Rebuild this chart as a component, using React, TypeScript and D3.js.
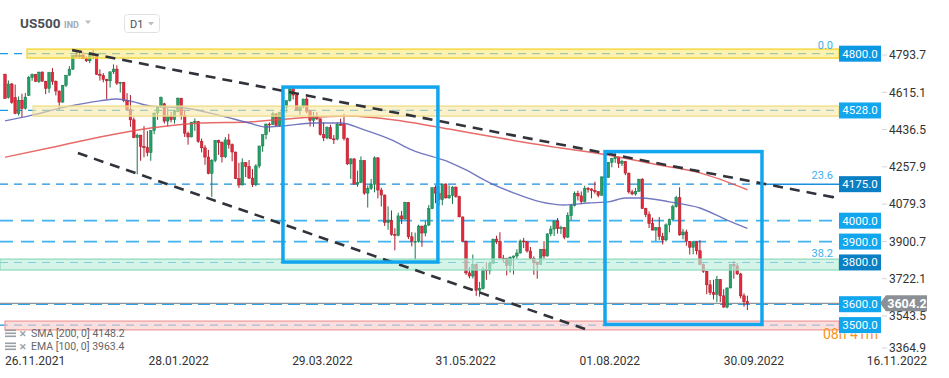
import React from "react";
import * as d3 from "d3";

// ---------- DATA ----------
// daily candles [open, high, low, close], 26.11.2021 .. 11.10.2022
const ohlc: [number, number, number, number][] = [
  [4701, 4705, 4586, 4585], [4590, 4672, 4585, 4655], [4655, 4660, 4560, 4567], [4590, 4652, 4510, 4513],
  [4513, 4595, 4504, 4577], [4577, 4608, 4495, 4538], [4538, 4612, 4532, 4592], [4600, 4694, 4598, 4686],
  [4686, 4705, 4670, 4701], [4701, 4703, 4665, 4667], [4667, 4713, 4660, 4712], [4712, 4715, 4667, 4668],
  [4668, 4670, 4606, 4634], [4634, 4713, 4612, 4709], [4709, 4731, 4651, 4668], [4668, 4672, 4600, 4621],
  [4621, 4624, 4531, 4568], [4568, 4650, 4565, 4649], [4649, 4697, 4640, 4697], [4697, 4740, 4695, 4726],
  [4726, 4792, 4722, 4791], [4791, 4808, 4781, 4786], [4786, 4805, 4778, 4793], [4793, 4808, 4775, 4778],
  [4778, 4787, 4760, 4766], [4766, 4797, 4755, 4797], [4797, 4819, 4774, 4794], [4794, 4798, 4699, 4701],
  [4701, 4725, 4671, 4696], [4696, 4707, 4663, 4677], [4677, 4680, 4582, 4670], [4670, 4715, 4638, 4713],
  [4713, 4749, 4703, 4726], [4726, 4744, 4650, 4659], [4659, 4665, 4614, 4663], [4663, 4665, 4568, 4577],
  [4577, 4611, 4530, 4532], [4532, 4602, 4450, 4483], [4483, 4494, 4395, 4398], [4398, 4417, 4222, 4410],
  [4410, 4411, 4287, 4356], [4356, 4453, 4304, 4350], [4350, 4429, 4309, 4326], [4326, 4432, 4287, 4432],
  [4432, 4516, 4414, 4516], [4516, 4546, 4483, 4546], [4546, 4595, 4540, 4589], [4560, 4565, 4465, 4477],
  [4477, 4539, 4451, 4501], [4501, 4521, 4471, 4484], [4484, 4531, 4465, 4522], [4522, 4590, 4520, 4587],
  [4587, 4588, 4484, 4504], [4504, 4527, 4401, 4419], [4419, 4427, 4364, 4401], [4401, 4472, 4400, 4472],
  [4472, 4490, 4430, 4475], [4475, 4478, 4373, 4380], [4380, 4394, 4327, 4349], [4349, 4362, 4268, 4305],
  [4305, 4339, 4222, 4226], [4226, 4295, 4114, 4288], [4288, 4385, 4280, 4385], [4385, 4388, 4315, 4374],
  [4374, 4380, 4279, 4306], [4306, 4401, 4300, 4387], [4387, 4416, 4345, 4364], [4364, 4370, 4284, 4329],
  [4329, 4330, 4199, 4201], [4201, 4277, 4157, 4171], [4171, 4299, 4170, 4278], [4278, 4280, 4209, 4260],
  [4260, 4291, 4200, 4204], [4204, 4247, 4161, 4173], [4173, 4271, 4165, 4262], [4262, 4358, 4251, 4358],
  [4358, 4412, 4330, 4412], [4412, 4465, 4390, 4463], [4463, 4471, 4425, 4461], [4461, 4522, 4460, 4512],
  [4512, 4515, 4455, 4456], [4456, 4520, 4450, 4520], [4520, 4546, 4501, 4543], [4543, 4576, 4517, 4575],
  [4575, 4637, 4570, 4632], [4632, 4635, 4581, 4602], [4602, 4608, 4530, 4530], [4530, 4548, 4507, 4546],
  [4546, 4583, 4539, 4583], [4583, 4593, 4514, 4525], [4525, 4530, 4451, 4481], [4481, 4521, 4450, 4500],
  [4500, 4520, 4482, 4488], [4488, 4490, 4408, 4413], [4413, 4471, 4381, 4397], [4397, 4452, 4390, 4446],
  [4446, 4460, 4392, 4392], [4392, 4410, 4367, 4391], [4391, 4471, 4385, 4462], [4462, 4489, 4455, 4460],
  [4460, 4512, 4384, 4394], [4394, 4398, 4267, 4272], [4272, 4299, 4200, 4296], [4296, 4300, 4175, 4175],
  [4175, 4240, 4162, 4183], [4183, 4308, 4180, 4288], [4288, 4290, 4124, 4132], [4132, 4169, 4063, 4155],
  [4155, 4200, 4147, 4175], [4175, 4308, 4136, 4301], [4301, 4305, 4107, 4147], [4147, 4158, 4068, 4123],
  [4123, 4125, 3975, 3991], [3991, 4069, 3957, 4001], [4001, 4049, 3928, 3935], [3935, 3964, 3858, 3930],
  [3930, 4038, 3925, 4023], [4023, 4047, 3984, 4008], [4008, 4090, 4005, 4088], [4088, 4090, 3912, 3923],
  [3923, 3945, 3877, 3901], [3901, 3943, 3810, 3901], [3901, 3981, 3895, 3974], [3974, 3976, 3875, 3941],
  [3941, 3999, 3925, 3979], [3979, 4075, 3975, 4058], [4058, 4158, 4055, 4158], [4158, 4169, 4084, 4132],
  [4132, 4166, 4073, 4101], [4101, 4177, 4074, 4176], [4176, 4178, 4107, 4109], [4109, 4169, 4105, 4121],
  [4121, 4165, 4080, 4161], [4161, 4164, 4110, 4116], [4116, 4119, 4017, 4018], [4018, 4020, 3900, 3901],
  [3901, 3905, 3740, 3750], [3750, 3778, 3724, 3735], [3735, 3838, 3723, 3790], [3790, 3795, 3640, 3667],
  [3667, 3707, 3636, 3675], [3675, 3780, 3670, 3765], [3765, 3801, 3717, 3760], [3760, 3805, 3743, 3796],
  [3796, 3913, 3795, 3912], [3912, 3928, 3889, 3900], [3900, 3945, 3820, 3821], [3821, 3836, 3799, 3819],
  [3819, 3822, 3738, 3785], [3785, 3829, 3752, 3825], [3825, 3832, 3742, 3831], [3831, 3863, 3818, 3845],
  [3845, 3910, 3843, 3903], [3903, 3918, 3869, 3899], [3899, 3900, 3847, 3855], [3855, 3874, 3814, 3819],
  [3819, 3829, 3741, 3801], [3801, 3805, 3722, 3790], [3790, 3863, 3788, 3863], [3863, 3902, 3818, 3831],
  [3831, 3939, 3828, 3937], [3937, 3975, 3925, 3960], [3960, 3999, 3927, 3999], [3999, 4013, 3938, 3962],
  [3962, 3976, 3936, 3967], [3967, 3970, 3911, 3921], [3921, 4040, 3918, 4024], [4024, 4079, 4002, 4072],
  [4072, 4140, 4068, 4130], [4130, 4144, 4097, 4119], [4119, 4140, 4079, 4091], [4091, 4167, 4088, 4155],
  [4155, 4161, 4135, 4152], [4152, 4155, 4107, 4145], [4145, 4187, 4129, 4140], [4140, 4141, 4112, 4122],
  [4122, 4211, 4120, 4210], [4210, 4258, 4201, 4207], [4207, 4280, 4205, 4280], [4280, 4301, 4256, 4297],
  [4297, 4325, 4277, 4305], [4305, 4306, 4253, 4275], [4275, 4292, 4262, 4284], [4284, 4286, 4218, 4228],
  [4228, 4230, 4130, 4138], [4138, 4148, 4122, 4128], [4128, 4157, 4120, 4141], [4141, 4200, 4138, 4199],
  [4199, 4204, 4057, 4058], [4058, 4062, 4017, 4030], [4030, 4044, 3965, 3986], [3986, 4015, 3954, 3955],
  [3955, 3970, 3903, 3967], [3967, 4018, 3907, 3924], [3924, 3942, 3886, 3908], [3908, 3987, 3900, 3980],
  [3980, 4010, 3944, 4006], [4006, 4077, 4004, 4067], [4067, 4119, 4063, 4110], [4110, 4160, 3928, 3932],
  [3932, 3961, 3911, 3946], [3946, 3957, 3880, 3901], [3901, 3903, 3838, 3873], [3873, 3900, 3839, 3899],
  [3899, 3902, 3838, 3856], [3856, 3907, 3790, 3790], [3790, 3795, 3750, 3758], [3758, 3760, 3648, 3693],
  [3693, 3716, 3644, 3655], [3655, 3717, 3623, 3647], [3647, 3736, 3610, 3719], [3719, 3720, 3610, 3640],
  [3640, 3672, 3584, 3586], [3586, 3679, 3580, 3678], [3678, 3791, 3676, 3791], [3791, 3807, 3722, 3783],
  [3783, 3797, 3740, 3745], [3745, 3750, 3628, 3640], [3640, 3652, 3588, 3612], [3612, 3641, 3572, 3604.2],
];

// SMA 200 (red): [bar index, price]
const sma200: [number, number][] = [
  [0, 4304], [13, 4348], [28, 4401], [43, 4444], [58, 4468], [72, 4473], [87, 4492], [101, 4502],
  [117, 4478], [131, 4439], [146, 4396], [164, 4348], [176, 4320], [193, 4267], [205, 4229], [219, 4148.2],
];
// EMA 100 (blue)
const ema100: [number, number][] = [
  [0, 4478], [8, 4506], [18, 4545], [28, 4574], [33, 4583], [38, 4569], [43, 4549], [53, 4540],
  [63, 4506], [72, 4468], [77, 4449], [82, 4454], [91, 4468], [99, 4468], [106, 4435], [114, 4387],
  [120, 4339], [131, 4281], [136, 4243], [143, 4181], [150, 4133], [158, 4090], [165, 4075], [172, 4085],
  [178, 4090], [183, 4109], [188, 4109], [196, 4090], [205, 4061], [213, 4003], [219, 3963.4],
];

const priceTicks = [4793.7, 4615.1, 4436.5, 4257.9, 4079.3, 3900.7, 3722.1, 3543.5, 3364.9];
const dateTicks: [number, string][] = [
  [0, "26.11.2021"], [42.3, "28.01.2022"], [84.7, "29.03.2022"], [127, "31.05.2022"], [169.5, "01.08.2022"], [212, "30.09.2022"],
];
const lastDate = "16.11.2022";

// horizontal levels [price, label style]
const levels: [number, string][] = [
  [4800, "a"], [4528, "b"], [4175, "c"], [4000, "d"], [3900, "d"], [3800, "c"], [3600, "e"], [3500, "b"],
];
// zones [start bar index, low, high, kind]
const zones: [number, number, number, string][] = [
  [6.5, 4779, 4822, "y1"], [8.3, 4501, 4549, "y2"], [-1.5, 3764, 3816, "g"], [0, 3477, 3519, "r"],
];
// trend lines [[idx, price], [idx, price]]
const trendLines: [[number, number], [number, number]][] = [
  [[19.8, 4817], [244.2, 4113]],
  [[21.5, 4324], [171.1, 3481]],
];
// highlight boxes [idx0, idx1, priceTop, priceBottom]
const boxes: [number, number, number, number][] = [
  [82, 127.7, 4640, 3802],
  [177, 223.3, 4331, 3503],
];
// fibonacci labels [price, text]
const fibs: [number, string][] = [[4800, "0.0"], [4175, "23.6"], [3800, "38.2"]];
const lastPrice = 3604.2;
const legendItems: [string, string][] = [["SMA [200,  0] 4148.2", "sma"], ["EMA [100,  0] 3963.4", "ema"]];

// ---------- CHART ----------
const W = 949, H = 378;
const FONT = "Roboto, 'Noto Sans', sans-serif";

export default function App() {
  const x = d3.scaleLinear().domain([0, 219]).range([5, 747.4]);
  const y = d3.scaleLinear().domain([4793.7, 3543.5]).range([55, 316]);
  const plotL = 0, plotR = 839;
  const bw = 2.6;

  const lineGen = d3.line<[number, number]>().x(d => x(d[0])).y(d => y(d[1])).curve(d3.curveMonotoneX);

  const levelStyle: Record<string, { c: string; w: number; da: string }> = {
    a: { c: "#1a9be6", w: 1.3, da: "8 6" },
    b: { c: "#1a9be6", w: 1.3, da: "8 6" },
    c: { c: "#1a8fe0", w: 1.1, da: "8 6" },
    d: { c: "#3fb2ef", w: 1.8, da: "13 8" },
    e: { c: "#2aa3e8", w: 1.8, da: "12 6" },
  };
  const boxColor: Record<string, string> = {
    a: "#0c97e3", b: "#12a6ee", c: "#0a7fc4", d: "#12a6ee", e: "#12a6ee",
  };
  const zoneStyle: Record<string, { f: string; s: string; o: number }> = {
    y1: { f: "#fbe77c", s: "#f2d52c", o: 0.6 },
    y2: { f: "#f8eaa8", s: "#eedc88", o: 0.6 },
    g: { f: "#bfeedb", s: "#92dcc0", o: 0.65 },
    r: { f: "#f9cccc", s: "#f0a0a0", o: 0.65 },
  };

  return (
    <div style={{ position: "absolute", left: 0, top: 0, width: W, height: H, background: "#fff" }}>
      <svg width={W} height={H} style={{ display: "block", fontFamily: FONT }}>
        <defs>
          <clipPath id="cdClip">
            <rect x={800} y={320} width={39} height={25} />
            <rect x={839} y={333.5} width={60} height={12} />
          </clipPath>
        </defs>
        <rect width={W} height={H} fill="#fff" />

        {/* level lines */}
        {levels.map(([p, k], i) => {
          const s = levelStyle[k];
          const xEnd = p === 4175 ? x(224) : plotR;
          return (
            <line key={"lv" + i} x1={plotL} x2={xEnd} y1={y(p)} y2={y(p)} stroke={s.c} strokeWidth={s.w} strokeDasharray={s.da} />
          );
        })}
        <line x1={x(224)} x2={plotR} y1={y(4175)} y2={y(4175)} stroke="#1a8fe0" strokeWidth={1.5} />
        {/* current price line */}
        <line x1={plotL} x2={880} y1={y(lastPrice)} y2={y(lastPrice)} stroke="#8e9499" strokeWidth={1.2} />

        {/* candles */}
        {ohlc.map(([o, h, l, c], i) => {
          const up = c >= o;
          const fill = up ? "#23a067" : "#e3293b";
          const dark = up ? "#16784a" : "#a81b29";
          const cx = x(i);
          const top = y(Math.max(o, c));
          const bh = Math.max(1, y(Math.min(o, c)) - top);
          return (
            <g key={"c" + i}>
              <line x1={cx} x2={cx} y1={y(h)} y2={y(l)} stroke={dark} strokeWidth={1} />
              <rect x={cx - bw / 2} y={top} width={bw} height={bh} fill={fill} stroke={dark} strokeWidth={0.5} />
            </g>
          );
        })}

        {/* moving averages */}
        <path d={lineGen(sma200) || ""} fill="none" stroke="#e2514f" strokeWidth={1.5} opacity={0.85} />
        <path d={lineGen(ema100) || ""} fill="none" stroke="#5b60b4" strokeWidth={1.4} opacity={0.85} />

        {/* zones */}
        {zones.map(([i0, lo, hi, k], i) => {
          const s = zoneStyle[k];
          const x0 = Math.max(plotL, x(i0));
          return (
            <rect key={"z" + i} x={x0} y={y(hi)} width={plotR - x0} height={y(lo) - y(hi)}
              fill={s.f} fillOpacity={s.o} stroke={s.s} strokeWidth={1.3} />
          );
        })}

        {/* trend lines */}
        {trendLines.map(([a, b], i) => (
          <line key={"t" + i} x1={x(a[0])} y1={y(a[1])} x2={x(b[0])} y2={y(b[1])}
            stroke="#30343a" strokeWidth={2.6} strokeDasharray="10 7" />
        ))}
        <circle cx={x(trendLines[0][1][0])} cy={y(trendLines[0][1][1])} r={1.4} fill="#30343a" />

        {/* highlight boxes */}
        {boxes.map(([i0, i1, pt, pb], i) => (
          <rect key={"b" + i} x={x(i0)} y={y(pt)} width={x(i1) - x(i0)} height={y(pb) - y(pt)}
            fill="none" stroke="#12a6ee" strokeWidth={3.5} />
        ))}

        {/* fib labels */}
        {fibs.map(([p, t], i) => (
          <text key={"f" + i} x={833} y={y(p) - 5} textAnchor="end" fontSize={11} fill="#3cb0ef">{t}</text>
        ))}

        {/* countdown, partly hidden behind the 3500 label */}
        <g clipPath="url(#cdClip)">
          <text x={823} y={339} fontSize={14} fill="#f7941d">08h 41m</text>
        </g>

        {/* right axis */}
        {priceTicks.map((p, i) => {
          const yy = Math.min(y(p), 348);
          return (
            <g key={"pt" + i}>
              <line x1={882} x2={887} y1={yy} y2={yy} stroke="#d6d6d6" strokeWidth={1} />
              <text x={889} y={yy + 4.3} fontSize={12} fill="#333">{p.toFixed(1)}</text>
            </g>
          );
        })}

        {/* level label boxes */}
        {levels.map(([p, k], i) => (
          <g key={"lb" + i}>
            <rect x={839} y={y(p) - 8} width={42} height={16} fill={boxColor[k]} />
            <text x={860} y={y(p) + 4} textAnchor="middle" fontSize={11.5} fill="#fff">{p.toFixed(1)}</text>
          </g>
        ))}

        {/* current price box */}
        {(() => {
          const cy = y(lastPrice);
          const pts = [[880, cy], [886, cy - 8], [927, cy - 8], [927, cy + 8], [886, cy + 8]].map(d => d.join(",")).join(" ");
          return (
            <g>
              <polygon points={pts} fill="#8a9095" />
              <text x={907} y={cy + 4.5} textAnchor="middle" fontSize={12.5} fontWeight="bold" fill="#fff">{lastPrice.toFixed(1)}</text>
            </g>
          );
        })()}

        {/* date axis */}
        {dateTicks.map(([i, t], k) => (
          <text key={"d" + k} x={x(i)} y={365} fontSize={12} fill="#333">{t}</text>
        ))}
        <text x={927} y={365} textAnchor="end" fontSize={12} fill="#333">{lastDate}</text>

        {/* header */}
        <text x={20} y={28} fontSize={13.5} fontWeight="bold" fill="#4a4f56">US500</text>
        <text x={64} y={27.5} fontSize={9} fontWeight="bold" fill="#a3a9ae">IND</text>
        <path d="M85,20.5 L91,20.5 L88,24 Z" fill="#b8bdc2" />
        <rect x={124.5} y={14.5} width={35} height={18} rx={3} fill="#fff" stroke="#dfe2e5" />
        <text x={130} y={28} fontSize={11} fill="#4a4f56">D1</text>
        <path d="M148,22 L154,22 L151,25.5 Z" fill="#b8bdc2" />

        {/* legend */}
        {legendItems.map(([t], i) => {
          const yy = 336.5 + i * 13;
          return (
            <g key={"lg" + i}>
              <rect x={5} y={yy - 7} width={11} height={1.6} fill="#9aa0a6" />
              <rect x={5} y={yy - 4} width={11} height={1.6} fill="#9aa0a6" />
              <rect x={5} y={yy - 1} width={11} height={1.6} fill="#9aa0a6" />
              <text x={19} y={yy} fontSize={9} fontWeight="bold" fill="#9aa0a6">✕</text>
              <text x={31} y={yy} fontSize={10.5} fill="#666">{t}</text>
            </g>
          );
        })}
      </svg>
    </div>
  );
}
